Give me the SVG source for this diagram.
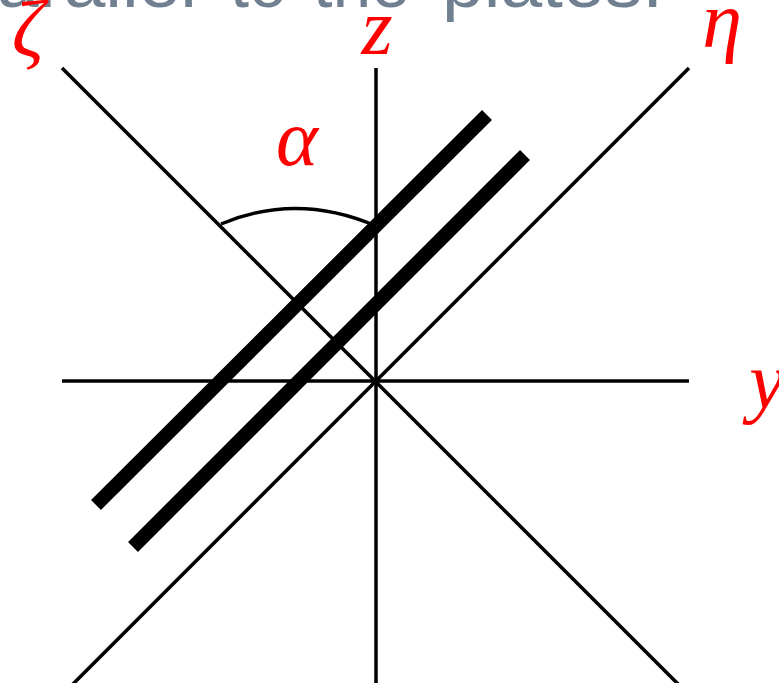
<svg xmlns="http://www.w3.org/2000/svg" width="779" height="683" viewBox="0 0 779 683">
<style>
.thin{stroke:#000;stroke-width:3.5;fill:none;stroke-linecap:butt}
.plate{stroke:#000;stroke-width:14;fill:none;stroke-linecap:butt}
.lbl{font-family:"Liberation Serif","DejaVu Serif",serif;font-style:italic;font-size:80px;fill:#ff0000;text-anchor:middle}
.cap{font-family:"Liberation Sans","Open Sans",sans-serif;font-size:70px;fill:#708090}
</style>
<rect width="779" height="683" fill="#fff"/>
<text class="cap" y="7"><tspan x="-3" textLength="200" lengthAdjust="spacingAndGlyphs">arallel</tspan><tspan x="230" textLength="57" lengthAdjust="spacingAndGlyphs">to</tspan><tspan x="313" textLength="97" lengthAdjust="spacingAndGlyphs">the</tspan><tspan x="442" textLength="221" lengthAdjust="spacingAndGlyphs">plates.</tspan></text>
<g id="connectors">
<line class="thin" x1="376" y1="68" x2="376" y2="690"/>
<line class="thin" x1="62" y1="381" x2="689" y2="381"/>
<line class="thin" x1="62" y1="68" x2="690" y2="696"/>
<line class="thin" x1="689" y1="68" x2="62" y2="695"/>
<path class="thin" d="M221,224 Q297,192 376,226"/>
</g>
<g id="plate1"><line class="plate" x1="96" y1="505" x2="487" y2="115"/></g>
<g id="plate2"><line class="plate" x1="133" y1="547" x2="525" y2="155"/></g>
<g id="label-zeta"><text class="lbl" x="28" y="56">ζ</text></g>
<g id="label-z"><text class="lbl" x="377" y="54">z</text></g>
<g id="label-eta"><text class="lbl" x="722" y="47">η</text></g>
<g id="label-y"><text class="lbl" x="767" y="408">y</text></g>
<g id="label-alpha"><text class="lbl" x="297" y="165">α</text></g>
</svg>
